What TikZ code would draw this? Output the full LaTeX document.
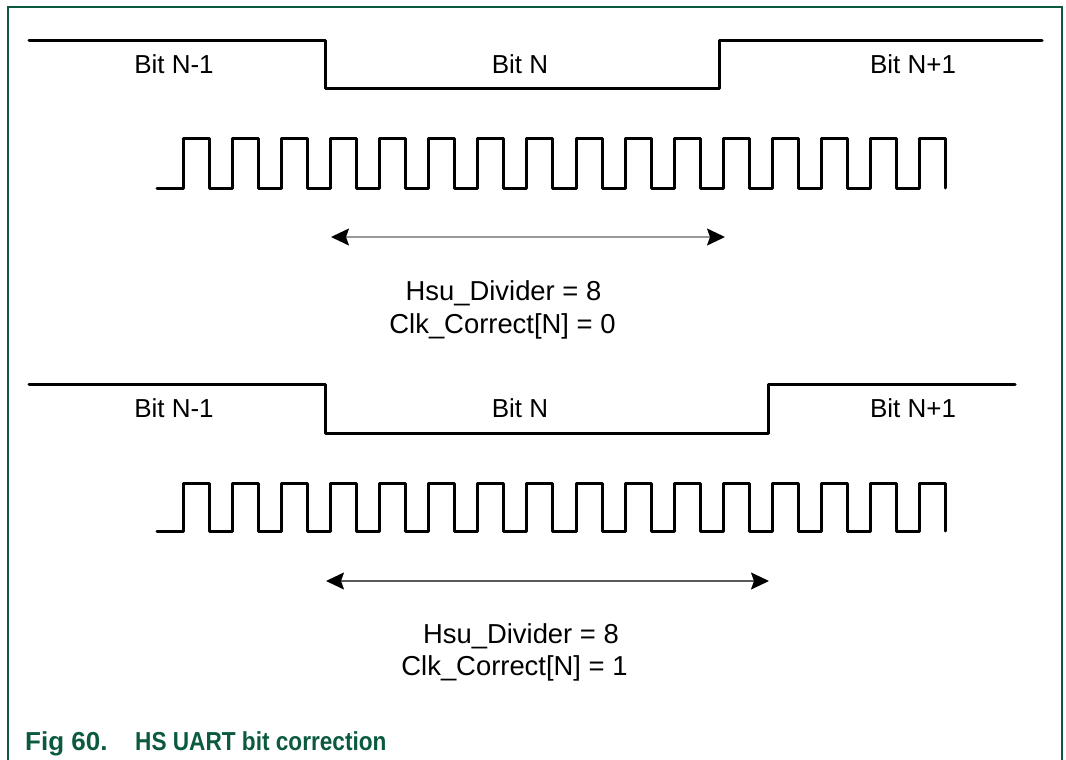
\documentclass[tikz,border=0pt]{standalone}
\usepackage{fontspec}
\setmainfont{Liberation Sans}
\usetikzlibrary{arrows.meta}
\definecolor{nxpgreen}{HTML}{0B5A40}
\begin{document}
\begin{tikzpicture}[x=1pt,y=-1pt,
  sig/.style={line width=3pt,line join=round,line cap=round,black},
  dimarrow/.style={line width=1.6pt,draw=#1,
    {Stealth[length=18pt,width=17pt,inset=3pt,black]}-{Stealth[length=18pt,width=17pt,inset=3pt,black]}},
  bitlbl/.style={font=\fontsize{26}{30}\selectfont,inner sep=0pt},
  parlbl/.style={font=\fontsize{27.4}{32}\selectfont,inner sep=0pt},
  caplbl/.style={anchor=base west,inner sep=0pt,text=nxpgreen,font=\fontsize{26}{30}\selectfont\bfseries},
  frame/.style={line width=1.5pt,nxpgreen}]
\useasboundingbox (0,0) rectangle (1066,760);
% frame
\draw[frame] (8,760) -- (8,7) -- (1062,7) -- (1062,760);
% ---------- top diagram ----------
\draw[sig] (29,41) -- (325,41) -- (325,89) -- (719,89) -- (719,41) -- (1042,41);
\node[bitlbl] (t1) at (174,64) {Bit N-1};
\node[bitlbl] (t2) at (520,64) {Bit N};
\node[bitlbl] (t3) at (913,64) {Bit N+1};
\draw[sig] (157,188)
  \foreach \k in {0,...,15} {
    -- ({183+49.13*\k},188) -- ({183+49.13*\k},138) -- ({209+49.13*\k},138) -- ({209+49.13*\k},188)
  };
\coordinate (a1l) at (331,237);
\coordinate (a1r) at (725,237);
\draw[dimarrow=black!40] (a1l) -- (a1r);
\node[parlbl] (p1a) at (503.5,293) {Hsu\_Divider = 8};
\node[parlbl] (p1b) at (502.5,326) {Clk\_Correct[N] = 0};
% ---------- bottom diagram ----------
\draw[sig] (29,384) -- (325,384) -- (325,433) -- (768,433) -- (768,384) -- (1015,384);
\node[bitlbl] (b1) at (174,408) {Bit N-1};
\node[bitlbl] (b2) at (520,408) {Bit N};
\node[bitlbl] (b3) at (913,408) {Bit N+1};
\draw[sig] (157,531)
  \foreach \k in {0,...,15} {
    -- ({183+49.13*\k},531) -- ({183+49.13*\k},483) -- ({209+49.13*\k},483) -- ({209+49.13*\k},531)
  };
\coordinate (a2l) at (326,581);
\coordinate (a2r) at (769,581);
\draw[dimarrow=black!65] (a2l) -- (a2r);
\node[parlbl] (p2a) at (521,636) {Hsu\_Divider = 8};
\node[parlbl] (p2b) at (514.5,668) {Clk\_Correct[N] = 1};
% caption
\node[caplbl] (cap1) at (25,750) {Fig 60.};
\node[caplbl] (cap2) at (135,750) {\scalebox{0.87}[1]{HS UART bit correction}};
\end{tikzpicture}
\end{document}
